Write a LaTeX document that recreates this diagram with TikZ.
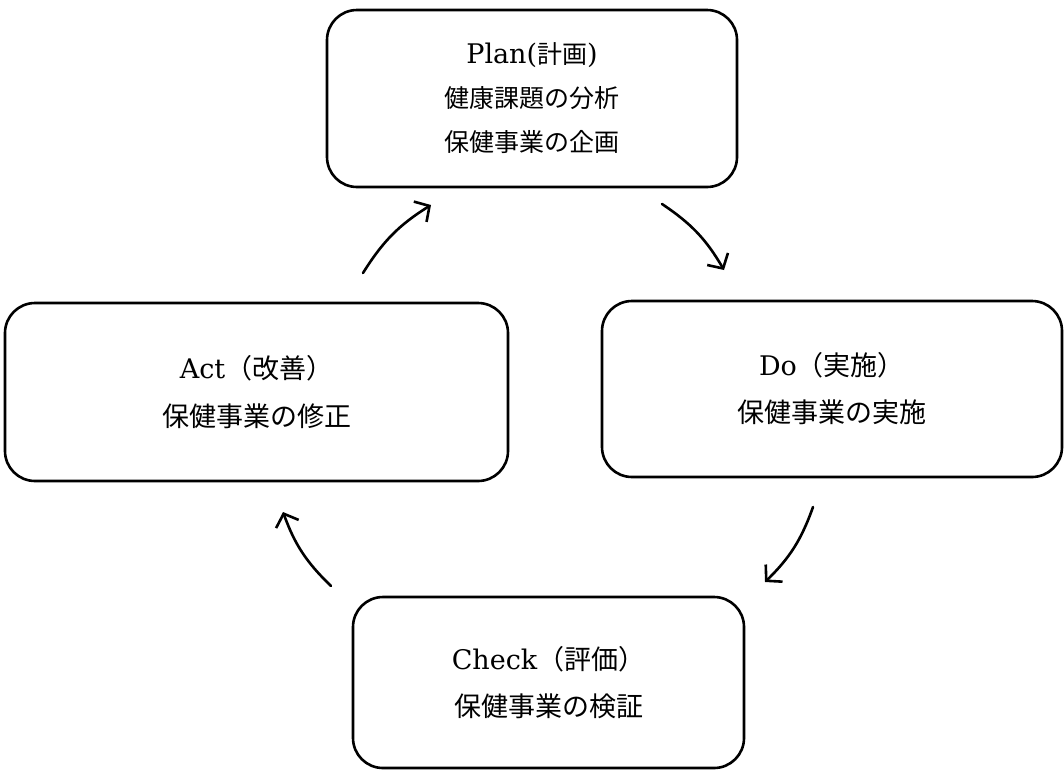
\documentclass[tikz,border=0pt]{standalone}
\usepackage{fontspec}
\newfontfamily\cjk{Noto Sans CJK JP}
\newfontfamily\latn{DejaVu Serif}
\usetikzlibrary{arrows.meta}
\begin{document}
\begin{tikzpicture}[x=1pt,y=-1pt,
  box/.style={draw, line width=2.6pt, rounded corners=30pt, inner sep=0pt, align=center},
  cyc/.style={line width=2.6pt, line cap=round, -{Straight Barb[length=11pt,width=24pt,line width=2.6pt]}}]
\useasboundingbox (0,0) rectangle (1064,769);
\newcommand{\lt}[1]{{\latn\fontsize{27}{47}\selectfont #1}}
\node[box, minimum width=410pt, minimum height=177pt,
      font={\cjk\fontsize{25}{44}\selectfont}] (plan) at (532,98.5)
  {\lt{Plan(}計画\lt{)}\\健康課題の分析\\保健事業の企画};
\node[box, minimum width=503pt, minimum height=178pt,
      font={\cjk\fontsize{27}{48}\selectfont}] (act) at (256.5,392)
  {\lt{Act}（改善）\\保健事業の修正};
\node[box, minimum width=460pt, minimum height=176pt,
      font={\cjk\fontsize{27}{47}\selectfont}] (do) at (832,389)
  {\lt{Do}（実施）\\保健事業の実施};
\node[box, minimum width=391pt, minimum height=171pt,
      font={\cjk\fontsize{27}{47}\selectfont}] (check) at (548.5,682.5)
  {\lt{Check}（評価）\\保健事業の検証};
\coordinate (a1s) at (363,273); \coordinate (a1e) at (431,205);
\coordinate (a2s) at (662,204); \coordinate (a2e) at (724,270);
\coordinate (a3s) at (813,507); \coordinate (a3e) at (765,582);
\coordinate (a4s) at (331,586); \coordinate (a4e) at (283,512);
\draw[cyc] (a1s) to[bend left=13] (a1e);
\draw[cyc] (a2s) to[bend left=13] (a2e);
\draw[cyc] (a3s) to[bend left=13] (a3e);
\draw[cyc] (a4s) to[bend left=13] (a4e);
\end{tikzpicture}
\end{document}
